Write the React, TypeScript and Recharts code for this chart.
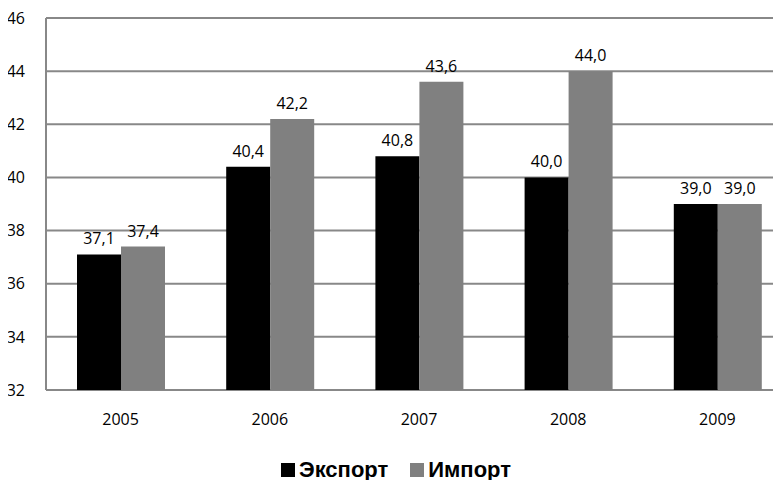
import { BarChart, Bar, XAxis, YAxis, CartesianGrid, Legend, LabelList } from "recharts";

const years = ["2005", "2006", "2007", "2008", "2009"];
const exportVals = [37.1, 40.4, 40.8, 40.0, 39.0];
const importVals = [37.4, 42.2, 43.6, 44.0, 39.0];
const yTicks = [32, 34, 36, 38, 40, 42, 44, 46];

const series = [
  { key: "export", name: "Экспорт", color: "#000" },
  { key: "import", name: "Импорт", color: "#808080" },
];

const data = years.map((year, i) => ({ year, export: exportVals[i], import: importVals[i] }));

const fmt = (v: number) => v.toFixed(1).replace(".", ",");
const font = "Open Sans, sans-serif";

// fixed-order legend (the default one sorts items by name)
const LegendBox = () => (
  <div
    style={{
      display: "flex",
      justifyContent: "center",
      gap: 22,
      height: 48,
      paddingTop: 11,
      boxSizing: "border-box",
      fontFamily: "Liberation Sans, Arial, sans-serif",
      fontWeight: 700,
      fontSize: 22,
      color: "#000",
    }}
  >
    {series.map((s) => (
      <span key={s.key} style={{ display: "flex", alignItems: "center", gap: 4, lineHeight: "24px" }}>
        <span style={{ width: 14, height: 14, background: s.color, display: "inline-block" }} />
        {s.name}
      </span>
    ))}
  </div>
);

export default function App() {
  return (
    <div style={{ margin: -8, width: 781, height: 488, overflow: "hidden", background: "#fff" }}>
      <BarChart
        width={792}
        height={488}
        data={data}
        margin={{ top: 18, right: 0, bottom: 0, left: 0 }}
        barGap={0}
        barCategoryGap={31}
      >
        <CartesianGrid vertical={false} stroke="#888" strokeWidth={2} />
        <XAxis
          dataKey="year"
          axisLine={false}
          tickLine={false}
          height={50}
          tick={{ fill: "#000", fontSize: 16, fontFamily: font }}
          tickMargin={18}
        />
        <YAxis
          domain={[32, 46]}
          ticks={yTicks}
          width={46}
          axisLine={{ stroke: "#888", strokeWidth: 2 }}
          tickLine={false}
          tickMargin={15}
          tick={{ fill: "#000", fontSize: 16, fontFamily: font }}
        />
        <Legend verticalAlign="bottom" height={48} content={LegendBox} />
        {series.map((s) => (
          <Bar key={s.key} dataKey={s.key} name={s.name} fill={s.color} isAnimationActive={false}>
            <LabelList dataKey={s.key} position="top" offset={10} formatter={fmt} fill="#000" fontSize={16} fontFamily={font} />
          </Bar>
        ))}
      </BarChart>
    </div>
  );
}
